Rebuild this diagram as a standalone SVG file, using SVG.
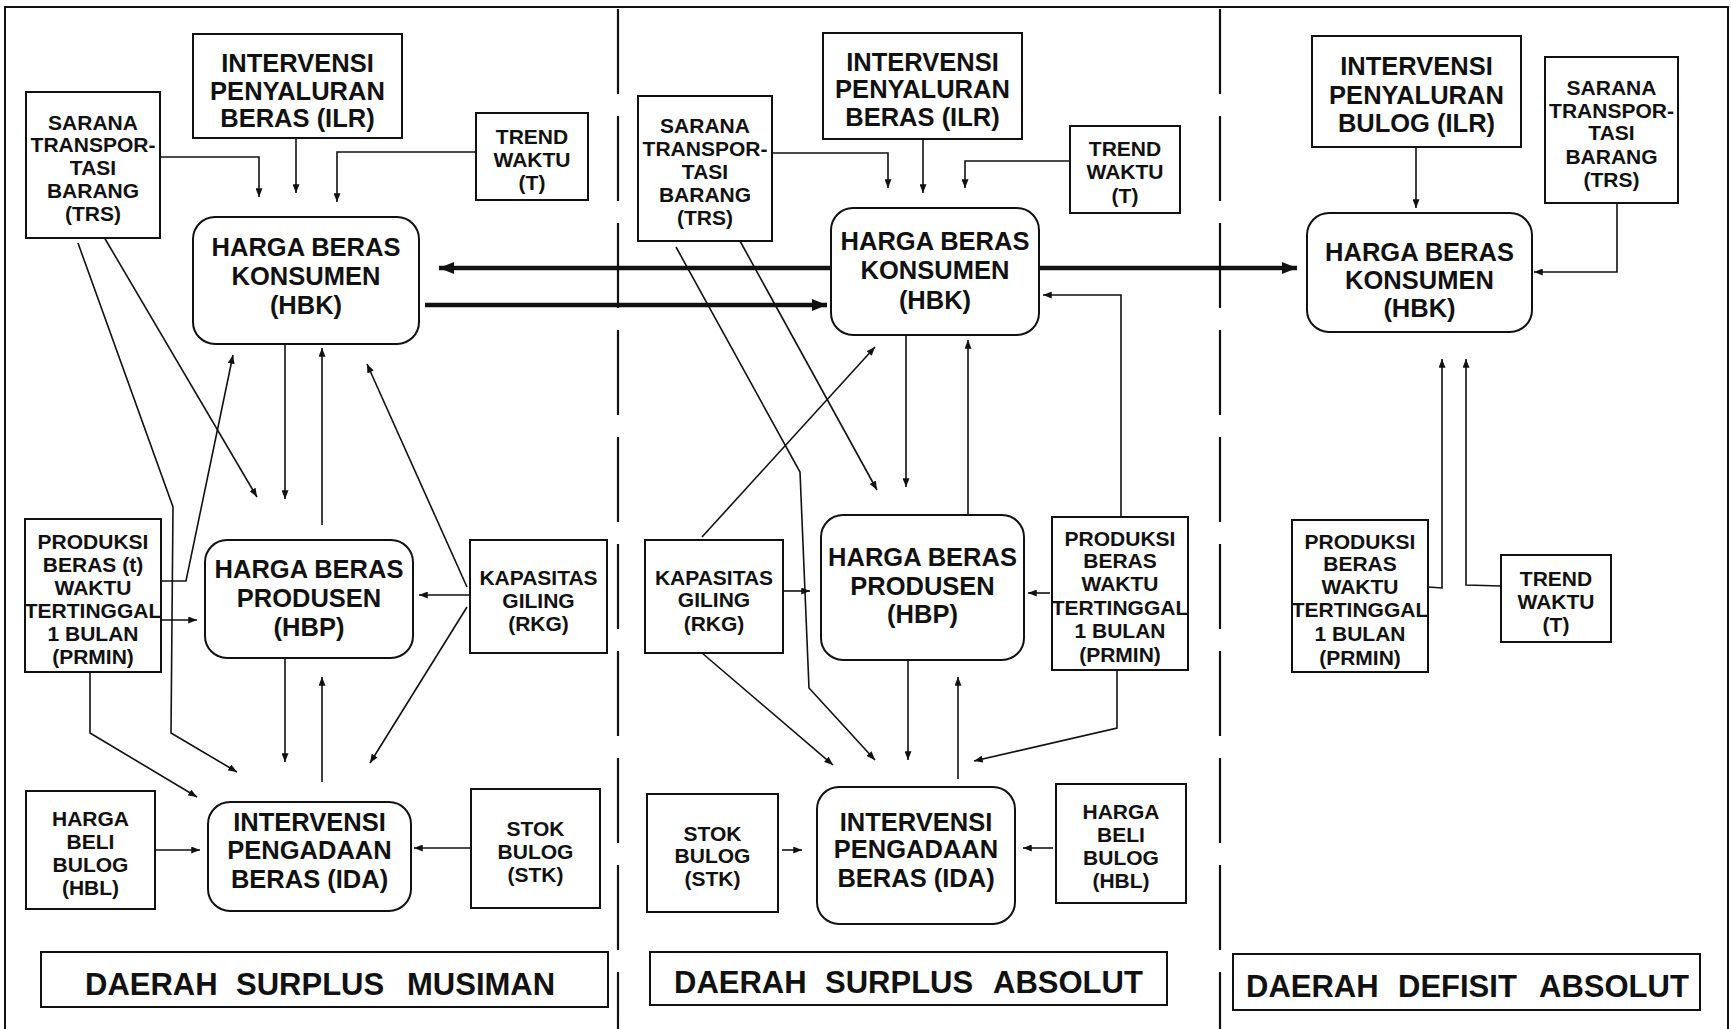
<svg xmlns="http://www.w3.org/2000/svg" width="1731" height="1029" viewBox="0 0 1731 1029">
<style>
text{font-family:"Liberation Sans",Arial,sans-serif;font-weight:bold;fill:#111;text-anchor:middle}
.s{font-size:21px}
.b{font-size:25.5px}
.lab{font-size:31px;text-anchor:start}
.box{fill:#fff;stroke:#111;stroke-width:2}
.c path,.c polyline,.c line{fill:none;stroke:#111;stroke-width:1.6}
.c .thick{stroke-width:4.5}
.frame{fill:none;stroke:#111;stroke-width:2}
.div{stroke:#111;stroke-width:2.2;stroke-dasharray:85 22}
</style>
<defs>
<marker id="ah" viewBox="0 0 10 8" refX="10" refY="4" markerWidth="9" markerHeight="7" markerUnits="userSpaceOnUse" orient="auto"><path d="M0,0 L10,4 L0,8 z" fill="#111"/></marker>
<marker id="ahb" viewBox="0 0 10 8" refX="10" refY="4" markerWidth="16" markerHeight="12" markerUnits="userSpaceOnUse" orient="auto"><path d="M0,0 L10,4 L0,8 z" fill="#111"/></marker>
</defs>
<rect width="1731" height="1029" fill="#fff"/>
<g id="frame">
<polyline class="frame" points="5,1029 5,7 1728,7 1728,1029"/>
<line class="div" x1="618" y1="9" x2="618" y2="1029"/>
<line class="div" x1="1220" y1="9" x2="1220" y2="1029"/>
</g>
<g class="c" id="connectors">
<polyline points="160,157 259,157 259,197" marker-end="url(#ah)"/>
<polyline points="296,138 296,193" marker-end="url(#ah)"/>
<polyline points="476,152 337,152 337,202" marker-end="url(#ah)"/>
<polyline points="285,344 285,499" marker-end="url(#ah)"/>
<polyline points="322,525 322,348" marker-end="url(#ah)"/>
<polyline points="78,243 173,507 171,733 237,772" marker-end="url(#ah)"/>
<polyline points="104,237 257,497" marker-end="url(#ah)"/>
<polyline points="161,581 186,581 233,355" marker-end="url(#ah)"/>
<polyline points="161,620 197,620" marker-end="url(#ah)"/>
<polyline points="470,595 419,595" marker-end="url(#ah)"/>
<polyline points="467,587 367,364" marker-end="url(#ah)"/>
<polyline points="467,607 370,763" marker-end="url(#ah)"/>
<polyline points="90,672 90,733 197,797" marker-end="url(#ah)"/>
<polyline points="285,658 285,762" marker-end="url(#ah)"/>
<polyline points="322,782 322,677" marker-end="url(#ah)"/>
<polyline points="155,850 200,850" marker-end="url(#ah)"/>
<polyline points="471,848 414,848" marker-end="url(#ah)"/>
<polyline points="772,153 888,153 888,188" marker-end="url(#ah)"/>
<polyline points="923,139 923,193" marker-end="url(#ah)"/>
<polyline points="1070,161 965,161 965,188" marker-end="url(#ah)"/>
<polyline points="1121,517 1121,295 1043,295" marker-end="url(#ah)"/>
<polyline points="906,335 906,487" marker-end="url(#ah)"/>
<polyline points="968,515 968,340" marker-end="url(#ah)"/>
<polyline points="702,537 875,347" marker-end="url(#ah)"/>
<polyline points="676,247 800,472 809,688 875,760" marker-end="url(#ah)"/>
<polyline points="740,241 877,490" marker-end="url(#ah)"/>
<polyline points="1050,593 1028,593" marker-end="url(#ah)"/>
<polyline points="783,591 810,591" marker-end="url(#ah)"/>
<polyline points="702,653 833,765" marker-end="url(#ah)"/>
<polyline points="908,660 908,760" marker-end="url(#ah)"/>
<polyline points="958,779 958,677" marker-end="url(#ah)"/>
<polyline points="1117,670 1117,728 974,761" marker-end="url(#ah)"/>
<polyline points="782,850 802,850" marker-end="url(#ah)"/>
<polyline points="1053,848 1023,848" marker-end="url(#ah)"/>
<polyline points="1416,147 1416,208" marker-end="url(#ah)"/>
<polyline points="1617,203 1617,272 1534,272" marker-end="url(#ah)"/>
<polyline points="1428,587 1442,588 1442,359" marker-end="url(#ah)"/>
<polyline points="1501,586 1466,585 1466,359" marker-end="url(#ah)"/>
<line class="thick" x1="831" y1="268" x2="439" y2="268" marker-end="url(#ahb)"/>
<line class="thick" x1="425" y1="305" x2="827" y2="305" marker-end="url(#ahb)"/>
<line class="thick" x1="1039" y1="268" x2="1297" y2="268" marker-end="url(#ahb)"/>
</g>
<g id="ilr1"><rect class="box" x="193" y="34" width="209" height="104"/><text class="b" x="297.5" y="72">INTERVENSI</text><text class="b" x="297.5" y="100">PENYALURAN</text><text class="b" x="297.5" y="127">BERAS (ILR)</text></g>
<g id="trs1"><rect class="box" x="26" y="92" width="134" height="146"/><text class="s" x="93" y="129.5">SARANA</text><text class="s" x="93" y="152">TRANSPOR-</text><text class="s" x="93" y="174.5">TASI</text><text class="s" x="93" y="198">BARANG</text><text class="s" x="93" y="221">(TRS)</text></g>
<g id="trend1"><rect class="box" x="476" y="113" width="112" height="87"/><text class="s" x="532" y="144">TREND</text><text class="s" x="532" y="167">WAKTU</text><text class="s" x="532" y="190">(T)</text></g>
<g id="hbk1"><rect class="box" x="193" y="217" width="226" height="127" rx="22"/><text class="b" x="306" y="256">HARGA BERAS</text><text class="b" x="306" y="285">KONSUMEN</text><text class="b" x="306" y="314">(HBK)</text></g>
<g id="prmin1"><rect class="box" x="25" y="519" width="136" height="153"/><text class="s" x="93" y="549">PRODUKSI</text><text class="s" x="93" y="572">BERAS (t)</text><text class="s" x="93" y="595">WAKTU</text><text class="s" x="93" y="618">TERTINGGAL</text><text class="s" x="93" y="641">1 BULAN</text><text class="s" x="93" y="664">(PRMIN)</text></g>
<g id="hbp1"><rect class="box" x="205" y="540" width="208" height="118" rx="22"/><text class="b" x="309" y="578">HARGA BERAS</text><text class="b" x="309" y="607">PRODUSEN</text><text class="b" x="309" y="636">(HBP)</text></g>
<g id="rkg1"><rect class="box" x="470" y="540" width="137" height="113"/><text class="s" x="538.5" y="584.5">KAPASITAS</text><text class="s" x="538.5" y="607.5">GILING</text><text class="s" x="538.5" y="630.5">(RKG)</text></g>
<g id="hbl1"><rect class="box" x="26" y="791" width="129" height="118"/><text class="s" x="90.5" y="825.5">HARGA</text><text class="s" x="90.5" y="849">BELI</text><text class="s" x="90.5" y="872">BULOG</text><text class="s" x="90.5" y="895">(HBL)</text></g>
<g id="ida1"><rect class="box" x="208" y="802" width="203" height="109" rx="22"/><text class="b" x="309.5" y="831">INTERVENSI</text><text class="b" x="309.5" y="859">PENGADAAN</text><text class="b" x="309.5" y="888">BERAS (IDA)</text></g>
<g id="stk1"><rect class="box" x="471" y="789" width="129" height="119"/><text class="s" x="535.5" y="835.5">STOK</text><text class="s" x="535.5" y="858.5">BULOG</text><text class="s" x="535.5" y="881.5">(STK)</text></g>
<g id="lab1"><rect class="box" x="41" y="952" width="567" height="55"/><text class="lab" y="995"><tspan x="85">DAERAH</tspan> <tspan x="236">SURPLUS</tspan> <tspan x="407">MUSIMAN</tspan></text></g>
<g id="trs2"><rect class="box" x="638" y="96" width="134" height="145"/><text class="s" x="705" y="133">SARANA</text><text class="s" x="705" y="156">TRANSPOR-</text><text class="s" x="705" y="179">TASI</text><text class="s" x="705" y="202">BARANG</text><text class="s" x="705" y="225">(TRS)</text></g>
<g id="ilr2"><rect class="box" x="823" y="33" width="199" height="106"/><text class="b" x="922.5" y="71">INTERVENSI</text><text class="b" x="922.5" y="98">PENYALURAN</text><text class="b" x="922.5" y="126">BERAS (ILR)</text></g>
<g id="trend2"><rect class="box" x="1070" y="126" width="110" height="87"/><text class="s" x="1125" y="156">TREND</text><text class="s" x="1125" y="179">WAKTU</text><text class="s" x="1125" y="203">(T)</text></g>
<g id="hbk2"><rect class="box" x="831" y="208" width="208" height="127" rx="22"/><text class="b" x="935" y="250">HARGA BERAS</text><text class="b" x="935" y="279">KONSUMEN</text><text class="b" x="935" y="309">(HBK)</text></g>
<g id="rkg2"><rect class="box" x="645" y="540" width="138" height="113"/><text class="s" x="714" y="584.5">KAPASITAS</text><text class="s" x="714" y="607">GILING</text><text class="s" x="714" y="631">(RKG)</text></g>
<g id="hbp2"><rect class="box" x="821" y="515" width="203" height="145" rx="22"/><text class="b" x="922.5" y="566">HARGA BERAS</text><text class="b" x="922.5" y="595">PRODUSEN</text><text class="b" x="922.5" y="623">(HBP)</text></g>
<g id="prmin2"><rect class="box" x="1052" y="517" width="136" height="153"/><text class="s" x="1120" y="545.5">PRODUKSI</text><text class="s" x="1120" y="568">BERAS</text><text class="s" x="1120" y="591">WAKTU</text><text class="s" x="1120" y="614.5">TERTINGGAL</text><text class="s" x="1120" y="638">1 BULAN</text><text class="s" x="1120" y="662">(PRMIN)</text></g>
<g id="stk2"><rect class="box" x="647" y="794" width="131" height="118"/><text class="s" x="712.5" y="840.5">STOK</text><text class="s" x="712.5" y="862.5">BULOG</text><text class="s" x="712.5" y="886">(STK)</text></g>
<g id="ida2"><rect class="box" x="817" y="787" width="198" height="137" rx="22"/><text class="b" x="916" y="831">INTERVENSI</text><text class="b" x="916" y="858">PENGADAAN</text><text class="b" x="916" y="887">BERAS (IDA)</text></g>
<g id="hbl2"><rect class="box" x="1056" y="784" width="130" height="119"/><text class="s" x="1121" y="818.5">HARGA</text><text class="s" x="1121" y="841.5">BELI</text><text class="s" x="1121" y="864.5">BULOG</text><text class="s" x="1121" y="887.5">(HBL)</text></g>
<g id="lab2"><rect class="box" x="650" y="952" width="517" height="53"/><text class="lab" y="993"><tspan x="674">DAERAH</tspan> <tspan x="825">SURPLUS</tspan> <tspan x="993">ABSOLUT</tspan></text></g>
<g id="ilr3"><rect class="box" x="1312" y="36" width="209" height="111"/><text class="b" x="1416.5" y="75">INTERVENSI</text><text class="b" x="1416.5" y="104">PENYALURAN</text><text class="b" x="1416.5" y="132">BULOG (ILR)</text></g>
<g id="trs3"><rect class="box" x="1545" y="57" width="133" height="146"/><text class="s" x="1611.5" y="94.5">SARANA</text><text class="s" x="1611.5" y="117.5">TRANSPOR-</text><text class="s" x="1611.5" y="140">TASI</text><text class="s" x="1611.5" y="163.5">BARANG</text><text class="s" x="1611.5" y="187">(TRS)</text></g>
<g id="hbk3"><rect class="box" x="1307" y="213" width="225" height="119" rx="22"/><text class="b" x="1419.5" y="261">HARGA BERAS</text><text class="b" x="1419.5" y="289">KONSUMEN</text><text class="b" x="1419.5" y="317">(HBK)</text></g>
<g id="prmin3"><rect class="box" x="1292" y="520" width="136" height="152"/><text class="s" x="1360" y="548.5">PRODUKSI</text><text class="s" x="1360" y="571">BERAS</text><text class="s" x="1360" y="594">WAKTU</text><text class="s" x="1360" y="617">TERTINGGAL</text><text class="s" x="1360" y="640.5">1 BULAN</text><text class="s" x="1360" y="664.5">(PRMIN)</text></g>
<g id="trend3"><rect class="box" x="1501" y="555" width="110" height="87"/><text class="s" x="1556" y="585.5">TREND</text><text class="s" x="1556" y="608.5">WAKTU</text><text class="s" x="1556" y="632">(T)</text></g>
<g id="lab3"><rect class="box" x="1233" y="954" width="467" height="56"/><text class="lab" y="997"><tspan x="1246">DAERAH</tspan> <tspan x="1398">DEFISIT</tspan> <tspan x="1539">ABSOLUT</tspan></text></g>
</svg>
